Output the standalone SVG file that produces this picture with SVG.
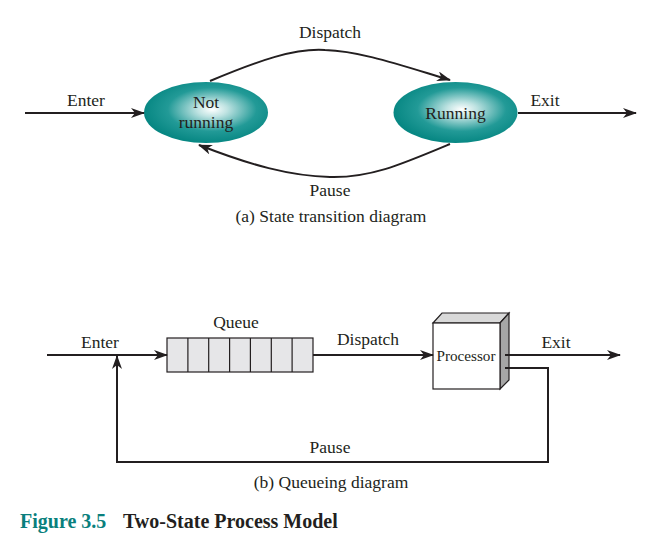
<svg xmlns="http://www.w3.org/2000/svg" width="659" height="549" viewBox="0 0 659 549">
<style>
text{font-family:"Liberation Serif","Times New Roman",serif;font-size:17.5px;fill:#231f20}
.c{text-anchor:middle}
.ln{fill:none;stroke:#231f20;stroke-width:2}
.st{stroke:#231f20;stroke-width:1.2}
.cap{font-weight:bold;font-size:20px}
</style>
<defs>
<radialGradient id="g" cx="0.55" cy="0.45" r="0.55">
<stop offset="0" stop-color="#ffffff"/>
<stop offset="0.22" stop-color="#bfe3e2"/>
<stop offset="0.65" stop-color="#229a97"/>
<stop offset="1" stop-color="#078783"/>
</radialGradient>
<marker id="a" markerWidth="14" markerHeight="10" refX="13" refY="5" orient="auto" markerUnits="userSpaceOnUse">
<path d="M0,0 L14,5 L0,10 L4,5 z" fill="#231f20"/>
</marker>
</defs>
<g id="notrunning">
<ellipse cx="206" cy="112.5" rx="62" ry="30.5" fill="url(#g)"/>
<text class="c" x="206" y="108">Not</text>
<text class="c" x="206" y="128">running</text>
</g>
<g id="running">
<ellipse cx="455.5" cy="112.5" rx="62" ry="30.5" fill="url(#g)"/>
<text class="c" x="455.5" y="119">Running</text>
</g>
<g id="queue">
<rect x="167" y="338" width="146" height="34" fill="#e6e6e8" class="st"/>
<path class="st" d="M187.9,338V372M208.7,338V372M229.6,338V372M250.4,338V372M271.3,338V372M292.1,338V372"/>
<text class="c" x="236" y="328">Queue</text>
</g>
<g id="processor">
<polygon points="433,323 442,313 509,313 500,323" fill="#d9d9d9" class="st"/>
<polygon points="500,323 509,313 509,380 500,389" fill="#a6a6a6" class="st"/>
<rect x="433" y="323" width="67" height="66" fill="#ffffff" class="st"/>
<text class="c" x="466" y="361" style="font-size:15.2px">Processor</text>
</g>
<g id="connectors">
<path class="ln" d="M25,113 H144" marker-end="url(#a)"/>
<path class="ln" d="M518,113 H636" marker-end="url(#a)"/>
<path class="ln" d="M210,81 C260,60 295,48 325,50 C360,51 400,65 450,80" marker-end="url(#a)"/>
<path class="ln" d="M450,144 C400,165 370,178 330,177 C290,176 250,165 199,145" marker-end="url(#a)"/>
<path class="ln" d="M47,355 H167" marker-end="url(#a)"/>
<path class="ln" d="M313,355 H433" marker-end="url(#a)"/>
<path class="ln" d="M505,355 H620" marker-end="url(#a)"/>
<path class="ln" d="M505,368 H548 V462 H117 V356" marker-end="url(#a)"/>
</g>
<g id="labels">
<text class="c" x="330" y="38">Dispatch</text>
<text class="c" x="330" y="196">Pause</text>
<text class="c" x="86" y="106">Enter</text>
<text class="c" x="545" y="106">Exit</text>
<text class="c" x="331" y="222">(a) State transition diagram</text>
<text class="c" x="100" y="348">Enter</text>
<text class="c" x="368" y="345">Dispatch</text>
<text class="c" x="556" y="348">Exit</text>
<text class="c" x="330" y="453">Pause</text>
<text class="c" x="331" y="488">(b) Queueing diagram</text>
<text class="cap" x="20" y="528" style="fill:#0a7f7d">Figure 3.5</text>
<text class="cap" x="123" y="528">Two-State Process Model</text>
</g>
</svg>
